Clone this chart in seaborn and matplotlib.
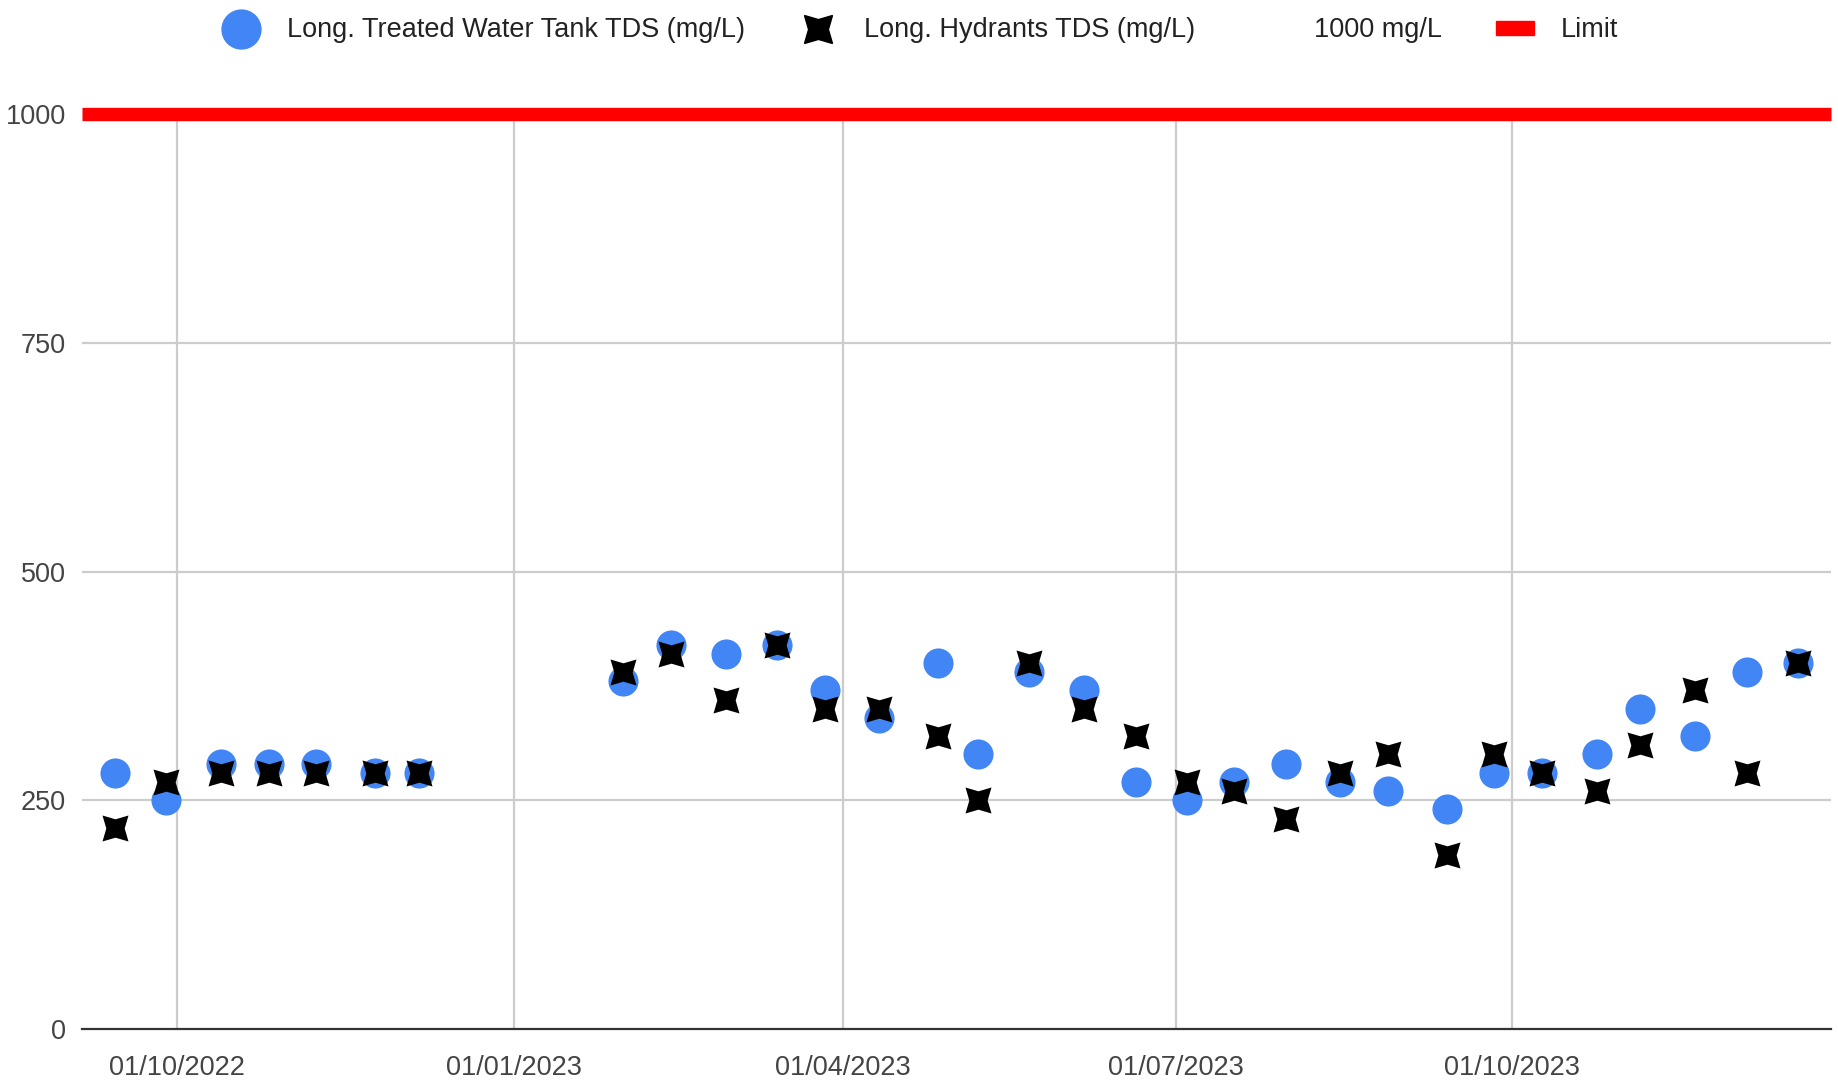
import pandas as pd
import numpy as np
import matplotlib.pyplot as plt
import matplotlib.dates as mdates
from matplotlib.lines import Line2D
from matplotlib.patches import Patch
import seaborn as sns

# --- DADOS ---
sample_dates = [
    '2022-09-14', '2022-09-28', '2022-10-13', '2022-10-26', '2022-11-08',
    '2022-11-24', '2022-12-06', '2023-01-31', '2023-02-13', '2023-02-28',
    '2023-03-14', '2023-03-27', '2023-04-11', '2023-04-27', '2023-05-08',
    '2023-05-22', '2023-06-06', '2023-06-20', '2023-07-04', '2023-07-17',
    '2023-07-31', '2023-08-15', '2023-08-28', '2023-09-13', '2023-09-26',
    '2023-10-09', '2023-10-24', '2023-11-05', '2023-11-20', '2023-12-04',
    '2023-12-18',
]
tank_tds = [280, 250, 290, 290, 290, 280, 280, 380, 420, 410,
            420, 370, 340, 400, 300, 390, 370, 270, 250, 270,
            290, 270, 260, 240, 280, 280, 300, 350, 320, 390, 400]
hydrant_tds = [220, 270, 280, 280, 280, 280, 280, 390, 410, 360,
               420, 350, 350, 320, 250, 400, 350, 320, 270, 260,
               230, 280, 300, 190, 300, 280, 260, 310, 370, 280, 400]
limit_dates = ['2022-09-05', '2023-12-27']
limit_values = [1000, 1000]
tick_dates = ['2022-10-01', '2023-01-01', '2023-04-01', '2023-07-01', '2023-10-01']
y_ticks = [0, 250, 500, 750, 1000]

# --- CONFIGURAÇÃO ---
sns.set_style('white')
plt.rcParams['font.family'] = ['Liberation Sans', 'DejaVu Sans']

estrela = (4, 1, 45)

df = pd.DataFrame({
    'data': pd.to_datetime(sample_dates),
    'tanque': tank_tds,
    'hidrantes': hydrant_tds,
})
limite = pd.DataFrame({'data': pd.to_datetime(limit_dates), 'valor': limit_values})

fig, ax = plt.subplots(figsize=(18.38, 10.86), dpi=100)
fig.subplots_adjust(left=0.0446, right=0.996, top=0.895, bottom=0.0525)

# grid
for t in pd.to_datetime(tick_dates):
    ax.axvline(t, color='#cccccc', lw=1.6, zorder=0)
for v in y_ticks[1:-1]:
    ax.axhline(v, color='#cccccc', lw=1.6, zorder=0)

# limite
sns.lineplot(data=limite, x='data', y='valor', color='#ff0000', lw=9.6,
             ax=ax, clip_on=False, zorder=2, legend=False,
             solid_capstyle='butt')

sns.scatterplot(data=df, x='data', y='tanque', color='#4285f4', s=470,
                marker='o', linewidth=0, ax=ax, zorder=3, legend=False)
sns.scatterplot(data=df, x='data', y='hidrantes', color='black', s=700,
                marker=estrela, linewidth=0, ax=ax, zorder=4, legend=False)

ax.set_xlim(limite['data'].min(), limite['data'].max())
ax.set_ylim(0, 1000)
ax.set_xticks(pd.to_datetime(tick_dates))
ax.xaxis.set_major_formatter(mdates.DateFormatter('%d/%m/%Y'))
ax.set_yticks(y_ticks)
ax.tick_params(axis='both', length=0, labelsize=19.5, labelcolor='#444444')
ax.tick_params(axis='x', pad=19)
ax.tick_params(axis='y', pad=11.5)
ax.set_xlabel('')
ax.set_ylabel('')

for s in ['top', 'right', 'left']:
    ax.spines[s].set_visible(False)
ax.spines['bottom'].set_color('#333333')
ax.spines['bottom'].set_linewidth(1.6)

# legenda
handles = [
    Line2D([], [], marker='o', ls='', color='#4285f4', markersize=28),
    Line2D([], [], marker=estrela, ls='', color='black', markersize=28.5),
    Line2D([], [], ls='', marker=''),
    Patch(color='#ff0000'),
]
labels = ['Long. Treated Water Tank TDS (mg/L)', 'Long. Hydrants TDS (mg/L)',
          '1000 mg/L', 'Limit']
fig.legend(handles, labels, loc='center', bbox_to_anchor=(0.5006, 0.972),
           ncol=4, frameon=False, fontsize=19.5, handlelength=1.39,
           handleheight=0.44, columnspacing=2.0, handletextpad=1.0,
           labelcolor='#222222', borderpad=0, borderaxespad=0)

plt.savefig('out.png', dpi=100)
plt.close()
